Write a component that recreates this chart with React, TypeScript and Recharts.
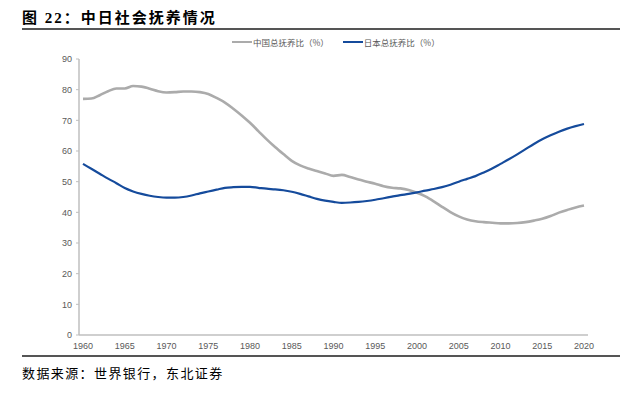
import { LineChart, Line, XAxis, YAxis } from "recharts";

const years = Array.from({ length: 61 }, (_, i) => String(1960 + i));

const chinaRatio = [
  77.0, 77.1, 78.2, 79.5, 80.4, 80.4, 81.2, 81.0, 80.3, 79.5,
  79.1, 79.2, 79.4, 79.4, 79.2, 78.6, 77.3, 75.8, 73.8, 71.6,
  69.2, 66.5, 63.8, 61.3, 59.0, 56.8, 55.3, 54.3, 53.5, 52.7,
  51.9, 52.2, 51.5, 50.7, 50.0, 49.3, 48.5, 48.0, 47.8, 47.3,
  46.4, 45.2, 43.6, 41.8, 40.1, 38.7, 37.7, 37.1, 36.8, 36.6,
  36.4, 36.4, 36.5, 36.8, 37.3, 37.9, 38.8, 39.9, 40.8, 41.6,
  42.2,
];

const japanRatio = [
  55.8, 54.2, 52.6, 51.0, 49.5, 47.9, 46.8, 46.0, 45.4, 45.0,
  44.8, 44.8, 45.0, 45.5, 46.2, 46.8, 47.4, 48.0, 48.2, 48.3,
  48.3, 48.0, 47.7, 47.5, 47.2, 46.7, 46.0, 45.2, 44.4, 43.8,
  43.4, 43.1, 43.2, 43.4, 43.7, 44.1, 44.6, 45.1, 45.6, 46.0,
  46.5, 47.1, 47.6, 48.2, 49.0, 50.0, 50.9, 51.8, 53.0, 54.3,
  55.8, 57.3, 58.9, 60.6, 62.3, 63.8, 65.1, 66.3, 67.3, 68.1,
  68.8,
];

const yTicks = [0, 10, 20, 30, 40, 50, 60, 70, 80, 90];

const seriesNames = ["中国总抚养比（%）", "日本总抚养比（%）"];
const seriesColors = ["#ababab", "#154b9c"];

const data = years.map((year, i) => ({
  year,
  china: chinaRatio[i],
  japan: japanRatio[i],
}));

const tickStyle = { fontSize: 9, fill: "#595959", fontFamily: "'Liberation Sans', Arial, sans-serif" };

export default function App() {
  return (
    <div style={{ position: "absolute", left: 0, top: 0, width: 641, height: 397, background: "#fff" }}>
      {/* title */}
      <div
        style={{
          position: "absolute",
          left: 22,
          top: 6,
          fontSize: 15,
          fontWeight: "bold",
          letterSpacing: 2,
          fontFamily: "'Liberation Serif', 'Noto Sans CJK SC', serif",
          color: "#000",
          whiteSpace: "nowrap",
        }}
      >
        图 22：中日社会抚养情况
      </div>
      <div style={{ position: "absolute", left: 22, top: 28, width: 598, height: 2, background: "#555" }} />

      {/* legend */}
      <div
        style={{
          position: "absolute",
          left: 232,
          top: 36,
          display: "flex",
          alignItems: "center",
          fontSize: 8.5,
          color: "#595959",
          fontFamily: "'Noto Sans CJK SC', sans-serif",
          whiteSpace: "nowrap",
        }}
      >
        {seriesNames.map((name, i) => (
          <div key={name} style={{ display: "flex", alignItems: "center", marginRight: 14 }}>
            <div style={{ width: 20, height: 2, background: seriesColors[i], marginRight: 1 }} />
            <span>{name}</span>
          </div>
        ))}
      </div>

      <div style={{ position: "absolute", left: 0, top: 0 }}>
        <LineChart width={641} height={397} data={data} margin={{ top: 59, right: 53, bottom: 42, left: 49 }}>
          <XAxis
            dataKey="year"
            interval={4}
            padding={{ left: 4, right: 4 }}
            tickLine={false}
            axisLine={{ stroke: "#bfbfbf", strokeWidth: 1.5 }}
            tick={tickStyle}
            height={20}
          />
          <YAxis
            domain={[0, 90]}
            ticks={yTicks}
            width={30}
            tickSize={3}
            tickMargin={4}
            tickLine={{ stroke: "#bfbfbf" }}
            axisLine={{ stroke: "#bfbfbf", strokeWidth: 1.5 }}
            tick={tickStyle}
            interval={0}
          />
          <Line
            type="monotone"
            dataKey="china"
            name={seriesNames[0]}
            stroke={seriesColors[0]}
            strokeWidth={2.6}
            dot={false}
            isAnimationActive={false}
          />
          <Line
            type="monotone"
            dataKey="japan"
            name={seriesNames[1]}
            stroke={seriesColors[1]}
            strokeWidth={2.2}
            dot={false}
            isAnimationActive={false}
          />
        </LineChart>
      </div>

      {/* bottom rule and source */}
      <div style={{ position: "absolute", left: 22, top: 355, width: 598, height: 2, background: "#555" }} />
      <div
        style={{
          position: "absolute",
          left: 22,
          top: 363,
          fontSize: 13,
          letterSpacing: 1.4,
          fontFamily: "'Liberation Serif', 'Noto Sans CJK SC', serif",
          color: "#000",
          whiteSpace: "nowrap",
        }}
      >
        数据来源：世界银行，东北证券
      </div>
    </div>
  );
}
